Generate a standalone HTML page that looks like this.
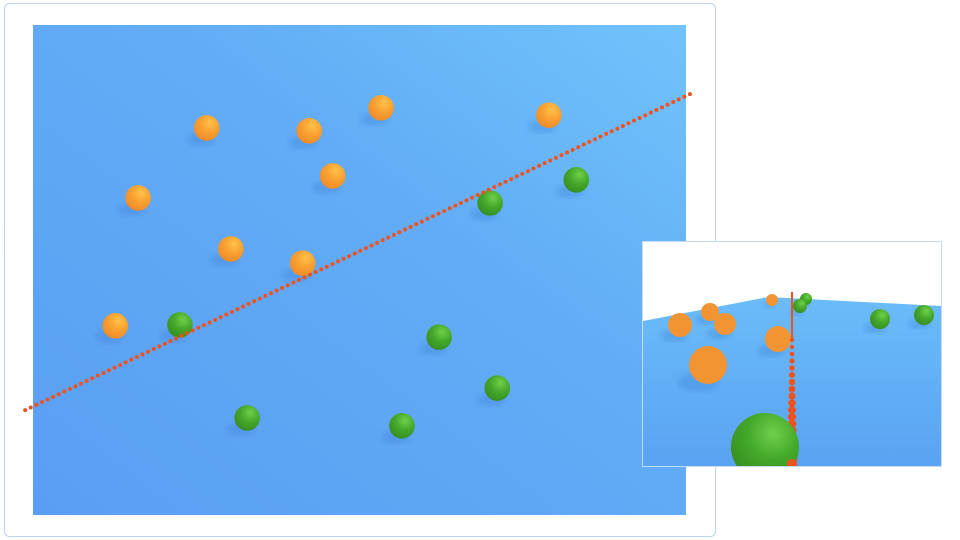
<!DOCTYPE html>
<html><head><meta charset="utf-8"><style>
body{margin:0;background:#fff;width:960px;height:540px;overflow:hidden;font-family:"Liberation Sans",sans-serif}
svg{position:absolute;left:0;top:0}
</style></head><body>
<svg id="s" width="960" height="540">
<defs>
<linearGradient id="plane" x1="0" y1="1" x2="1" y2="0">
<stop offset="0" stop-color="#5a9ef2"/><stop offset="0.6" stop-color="#62acf6"/><stop offset="1" stop-color="#70c3fb"/></linearGradient>
<linearGradient id="plane2" x1="0" y1="0" x2="0" y2="1">
<stop offset="0" stop-color="#6bbcfa"/><stop offset="1" stop-color="#5aa2f2"/></linearGradient>
<radialGradient id="og" cx="0.62" cy="0.3" r="0.75"><stop offset="0" stop-color="#ffc24a"/><stop offset="0.5" stop-color="#f9a030"/><stop offset="1" stop-color="#ef8a2a"/></radialGradient>
<radialGradient id="gg" cx="0.62" cy="0.3" r="0.75"><stop offset="0" stop-color="#6fd04a"/><stop offset="0.5" stop-color="#44a82a"/><stop offset="1" stop-color="#358d22"/></radialGradient>
<filter id="blur"><feGaussianBlur stdDeviation="3"/></filter>
<clipPath id="insclip"><rect x="643" y="242" width="298" height="224"/></clipPath>
</defs>
<rect x="4.5" y="3.5" width="711" height="533" rx="5" fill="#fff" stroke="#b9d3f2"/>
<rect x="33" y="25" width="653" height="490" fill="url(#plane)"/>
<g id="main"></g>
<rect x="642.5" y="241.5" width="299" height="225" fill="#fff" stroke="#c5daf3"/>
<polygon points="643,321 768,297 941,306 941,466 643,466" fill="url(#plane2)"/>
<g id="inset" clip-path="url(#insclip)"></g>
</svg>
<script>
const orangeX=[2.66,4.23,5.33,7.9,1.61,4.59,3.03,4.13,1.26];
const orangeY=[7.9,7.84,8.31,8.16,6.47,6.92,5.43,5.14,3.86];
const greenX=[2.25,7.0,8.32,6.22,7.11,3.28,5.65];
const greenY=[3.88,6.37,6.84,3.63,2.59,1.98,1.82];
const lineStart=[-0.12,2.14];
const lineEnd=[10.06,8.59];
const xs=x=>33+x*65.3, ys=y=>515-y*49;
const NS="http://www.w3.org/2000/svg";
function mk(t,a,p){const e=document.createElementNS(NS,t);for(const k in a)e.setAttribute(k,a[k]);p.appendChild(e);return e;}
const g=document.getElementById('main');
function ball(cx,cy,r,fill,parent,name){
  const sh=mk('ellipse',{cx:cx-r*0.5,cy:cy+r*0.9,rx:r*1.1,ry:r*0.5,fill:'#3d7fd6',opacity:0.35,filter:'url(#blur)'},parent);
  
  
  const c=mk('circle',{cx:cx,cy:cy,r:r,fill:fill},parent);
  
  
}
orangeX.forEach((x,i)=>ball(xs(x),ys(orangeY[i]),12.8,'url(#og)',g,'orange-point'));
greenX.forEach((x,i)=>ball(xs(x),ys(greenY[i]),12.8,'url(#gg)',g,'green-point'));
const x0=xs(lineStart[0]),y0=ys(lineStart[1]),x1=xs(lineEnd[0]),y1=ys(lineEnd[1]);
const len=Math.hypot(x1-x0,y1-y0),n=Math.round(len/6.2);
for(let i=0;i<=n;i++){const t=i/n;
  const d=mk('circle',{cx:x0+(x1-x0)*t,cy:y0+(y1-y0)*t,r:2,fill:'#f0521e'},g);
  
  }
const ins=document.getElementById('inset');
const io=[[680,325,12],[710,312,9],[725,324,11],[772,300,6],[778,339,13],[708,365,19]];
const ig=[[806,299,6],[800,306,7],[880,319,10],[924,315,10]];
io.forEach(b=>ball(b[0],b[1],b[2],'#f39433',ins,'inset-orange-point'));
ig.forEach(b=>ball(b[0],b[1],b[2],'url(#gg)',ins,'inset-green-point'));
const ln=mk('line',{x1:792,y1:292,x2:792,y2:340,stroke:'#f0521e','stroke-width':2},ins);


for(let y=340;y<466;y+=7){const r=2+(y-340)/126*3.5;
  const d=mk('circle',{cx:792,cy:y,r:r,fill:'#f0521e'},ins);
  
  }
const big=mk('circle',{cx:765,cy:447,r:34,fill:'url(#gg)'},ins);


const nd=mk('circle',{cx:792,cy:464,r:5,fill:'#f0521e'},ins);


</script>
</body></html>
